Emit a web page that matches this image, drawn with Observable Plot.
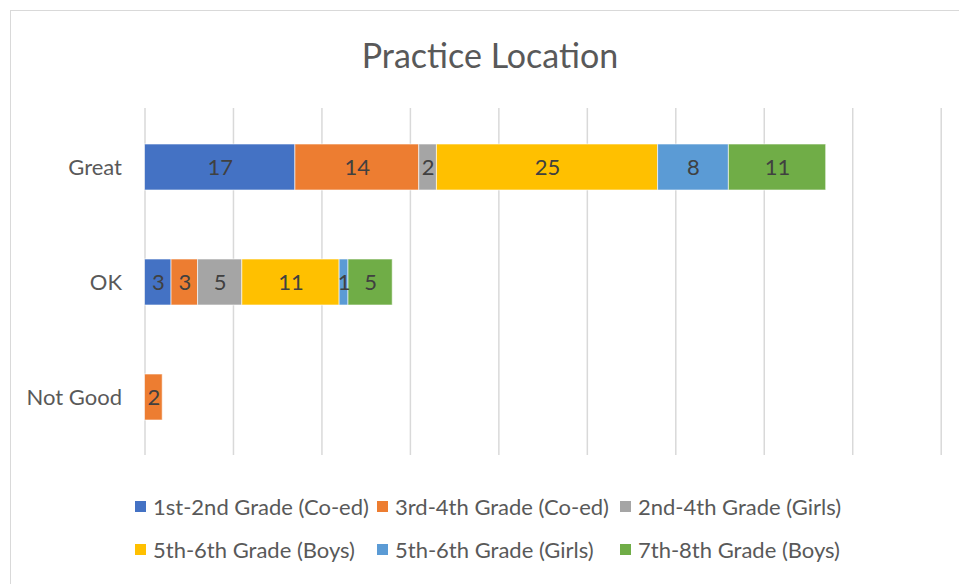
<!DOCTYPE html>
<html>
<head>
<meta charset="utf-8">
<script src="https://cdn.jsdelivr.net/npm/d3@7"></script>
<script src="https://cdn.jsdelivr.net/npm/@observablehq/plot@0.6"></script>
<style>
  html, body { margin: 0; padding: 0; background: #fff; }
  #wrap { position: relative; width: 959px; height: 584px; overflow: hidden; font-family: Lato, "Open Sans", sans-serif; }
  #frame { position: absolute; left: 10px; top: 10px; width: 1200px; height: 900px; border: 1.5px solid #d9d9d9; box-sizing: border-box; }
  #title { position: absolute; left: 10px; width: 960px; top: 32px; text-align: center; font-size: 34px; color: #595959; line-height: 46px; }
  #chart { position: absolute; left: 0; top: 90px; }
  .lg { position: absolute; font-size: 22px; color: #595959; line-height: 26px; white-space: nowrap; }
  .lg span.sw { position: absolute; left: 0; top: 7px; width: 11px; height: 11px; }
  .lg span.tx { position: absolute; left: 18px; top: 0; }
</style>
</head>
<body>
<div id="wrap">
  <div id="frame"></div>
  <div id="title">Practice Location</div>
  <div id="chart"></div>
  <div id="legend"></div>
</div>
<script>
const categories = ["Great", "OK", "Not Good"];
const seriesNames = [
  "1st-2nd Grade (Co-ed)",
  "3rd-4th Grade (Co-ed)",
  "2nd-4th Grade (Girls)",
  "5th-6th Grade (Boys)",
  "5th-6th Grade (Girls)",
  "7th-8th Grade (Boys)"
];
const colors = ["#4472C4", "#ED7D31", "#A5A5A5", "#FFC000", "#5B9BD5", "#70AD47"];
// values per series, in order of categories (Great, OK, Not Good); null = no bar
const grade12Coed = [17, 3, null];
const grade34Coed = [14, 3, 2];
const grade24Girls = [2, 5, null];
const grade56Boys = [25, 11, null];
const grade56Girls = [8, 1, null];
const grade78Boys = [11, 5, null];
const xTicks = [0, 10, 20, 30, 40, 50, 60, 70, 80, 90];

const seriesValues = [grade12Coed, grade34Coed, grade24Girls, grade56Boys, grade56Girls, grade78Boys];
const data = [];
seriesNames.forEach((s, i) => {
  categories.forEach((c, j) => {
    const v = seriesValues[i][j];
    if (v != null) data.push({series: s, cat: c, value: v});
  });
});

const chart = Plot.plot({
  width: 959,
  height: 380,
  marginTop: 18,
  marginBottom: 15,
  marginLeft: 144.5,
  marginRight: 18.3,
  style: { fontFamily: "Lato, 'Open Sans', sans-serif", color: "#595959", background: "transparent" },
  x: { domain: [0, 90], axis: null },
  y: { domain: categories, paddingInner: 0.6, paddingOuter: 0.3, label: null },
  color: { domain: seriesNames, range: colors },
  marks: [
    Plot.gridX(xTicks, { stroke: "#d9d9d9", strokeOpacity: 1, strokeWidth: 1.5 }),
    Plot.barX(data, Plot.stackX({ x: "value", y: "cat", fill: "series", z: "series", stroke: "white", strokeOpacity: 0.6, strokeWidth: 1, inset: 0 })),
    Plot.text(data, Plot.stackX({ x: "value", y: "cat", z: "series", text: d => String(d.value), fill: "#404040", fontSize: 22 })),
    Plot.axisY({ tickSize: 0, tickPadding: 23, fontSize: 22, label: null })
  ]
});
document.getElementById("chart").appendChild(chart);

// legend
const legend = document.getElementById("legend");
const colX = [135, 377, 620];
const rowY = [494, 537];
seriesNames.forEach((s, i) => {
  const d = document.createElement("div");
  d.className = "lg";
  d.style.left = colX[i % 3] + "px";
  d.style.top = rowY[Math.floor(i / 3)] + "px";
  const sw = document.createElement("span");
  sw.className = "sw";
  sw.style.background = colors[i];
  const tx = document.createElement("span");
  tx.className = "tx";
  tx.textContent = s;
  d.appendChild(sw);
  d.appendChild(tx);
  legend.appendChild(d);
});
</script>
</body>
</html>
